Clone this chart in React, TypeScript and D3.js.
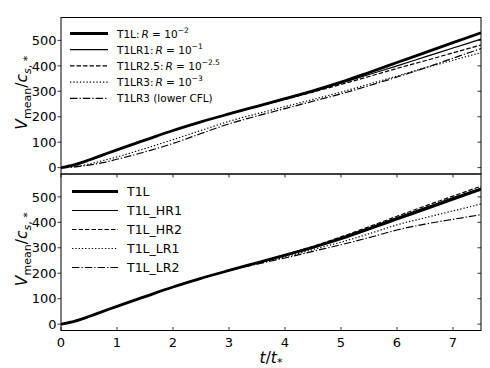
import React, { useEffect, useRef } from 'react';
import { select, scaleLinear, line, curveMonotoneX } from 'd3';

// time samples (t / t_*)
const times = [0, 0.25, 0.5, 0.75, 1, 1.5, 2, 2.5, 3, 3.5, 4, 4.5, 5, 5.5, 6, 6.5, 7, 7.5];

// top panel
const t1l = [0, 12, 30, 50, 70, 108, 146, 180, 211, 241, 271, 302, 336, 374, 413, 452, 491, 530];
const t1lr1 = [0, 12, 30, 50, 70, 108, 146, 180, 211, 241, 270, 300, 332, 366, 400, 435, 470, 505];
const t1lr25 = [0, 12, 30, 50, 70, 108, 146, 180, 211, 240, 268, 297, 327, 358, 390, 420, 451, 482];
const t1lr3 = [0, 4, 14, 28, 42, 75, 110, 146, 182, 212, 240, 268, 297, 328, 360, 392, 422, 452];
const t1lr3cfl = [0, 3, 10, 20, 33, 62, 95, 134, 172, 203, 232, 261, 290, 322, 356, 392, 430, 468];

// bottom panel
const t1lHr1 = [0, 12, 30, 50, 70, 108, 146, 180, 211, 241, 271, 304, 340, 379, 419, 458, 497, 535];
const t1lHr2 = [0, 12, 30, 50, 70, 108, 146, 180, 211, 241, 272, 306, 343, 383, 424, 464, 503, 542];
const t1lLr1 = [0, 12, 30, 50, 70, 108, 146, 180, 211, 238, 264, 293, 322, 355, 390, 418, 445, 472];
const t1lLr2 = [0, 12, 30, 50, 70, 108, 146, 180, 210, 236, 260, 286, 312, 340, 370, 393, 412, 430];

const xTicks = [0, 1, 2, 3, 4, 5, 6, 7];
const yTicks = [0, 100, 200, 300, 400, 500];

const styles: Record<string, { w: number; dash: string | null }> = {
  thick: { w: 2.8, dash: null },
  solid: { w: 1.2, dash: null },
  dashed: { w: 1.2, dash: '4.5,2' },
  dotted: { w: 1.2, dash: '1.3,2' },
  dashdot: { w: 1.2, dash: '7.5,2,1.3,2' },
};

const topSeries = [
  { label: ['T1L:', '2'], values: t1l, style: 'thick' },
  { label: ['T1LR1:', '1'], values: t1lr1, style: 'solid' },
  { label: ['T1LR2.5:', '2.5'], values: t1lr25, style: 'dashed' },
  { label: ['T1LR3:', '3'], values: t1lr3, style: 'dotted' },
  { label: ['T1LR3 (lower CFL)', ''], values: t1lr3cfl, style: 'dashdot' },
];

const bottomSeries = [
  { label: 'T1L', values: t1l, style: 'thick' },
  { label: 'T1L_HR1', values: t1lHr1, style: 'solid' },
  { label: 'T1L_HR2', values: t1lHr2, style: 'dashed' },
  { label: 'T1L_LR1', values: t1lLr1, style: 'dotted' },
  { label: 'T1L_LR2', values: t1lLr2, style: 'dashdot' },
];

const font = 'DejaVu Sans, sans-serif';

const App = () => {
  const ref = useRef<SVGSVGElement>(null);

  useEffect(() => {
    const svg = select(ref.current);
    svg.selectAll('*').remove();

    const left = 61, right = 481;
    const x = scaleLinear().domain([0, 7.5]).range([left, right]);

    const panels = [
      { top: 17.5, bottom: 174, series: topSeries, isTop: true },
      { top: 174, bottom: 330.5, series: bottomSeries, isTop: false },
    ];

    panels.forEach((p) => {
      const y = scaleLinear().domain([-25, 590]).range([p.bottom, p.top]);
      const g = svg.append('g');

      const clipId = p.isTop ? 'clipTop' : 'clipBottom';
      svg.append('clipPath').attr('id', clipId)
        .append('rect').attr('x', left).attr('y', p.top).attr('width', right - left).attr('height', p.bottom - p.top);

      const gen = line<number>()
        .x((_, i) => x(times[i]))
        .y((d) => y(d))
        .curve(curveMonotoneX);

      p.series.forEach((s) => {
        const st = styles[s.style];
        g.append('path')
          .attr('d', gen(s.values))
          .attr('fill', 'none')
          .attr('stroke', '#000')
          .attr('stroke-width', st.w)
          .attr('stroke-dasharray', st.dash)
          .attr('clip-path', `url(#${clipId})`);
      });

      // y ticks: left outside, right inside
      yTicks.forEach((v) => {
        g.append('line').attr('x1', left - 3.5).attr('x2', left).attr('y1', y(v)).attr('y2', y(v))
          .attr('stroke', '#000').attr('stroke-width', 0.8);
        g.append('line').attr('x1', right - 3.5).attr('x2', right).attr('y1', y(v)).attr('y2', y(v))
          .attr('stroke', '#000').attr('stroke-width', 0.8);
        g.append('text').attr('x', 56.5).attr('y', y(v)).attr('dy', '0.36em')
          .attr('text-anchor', 'end').attr('font-family', font).attr('font-size', 13)
          .text(v);
      });

      if (!p.isTop) {
        xTicks.forEach((v) => {
          g.append('line').attr('x1', x(v)).attr('x2', x(v)).attr('y1', p.top).attr('y2', p.top + 3.5)
            .attr('stroke', '#000').attr('stroke-width', 0.8);
          g.append('line').attr('x1', x(v)).attr('x2', x(v)).attr('y1', p.bottom - 3.5).attr('y2', p.bottom)
            .attr('stroke', '#000').attr('stroke-width', 0.8);
          g.append('text').attr('x', x(v)).attr('y', 346.5)
            .attr('text-anchor', 'middle').attr('font-family', font).attr('font-size', 13)
            .text(v);
        });
      }

      g.append('rect').attr('x', left).attr('y', p.top).attr('width', right - left).attr('height', p.bottom - p.top)
        .attr('fill', 'none').attr('stroke', '#000').attr('stroke-width', 1);

      // y label
      const yl = g.append('text')
        .attr('transform', `translate(27,${(p.top + p.bottom) / 2 - 3}) rotate(-90)`)
        .attr('text-anchor', 'middle').attr('font-family', font).attr('font-size', 15.5);
      yl.append('tspan').attr('font-style', 'italic').text('V');
      yl.append('tspan').attr('font-size', 11).attr('dy', 3.5).text('mean');
      yl.append('tspan').attr('dy', -3.5).text('/');
      yl.append('tspan').attr('font-style', 'italic').text('c');
      yl.append('tspan').attr('font-size', 11).attr('dy', 3.5).attr('font-style', 'italic').text('s');
      yl.append('tspan').attr('font-size', 11).text(', *');

      // legend
      if (p.isTop) {
        topSeries.forEach((s, i) => {
          const ly = 33.5 + i * 16.2;
          const st = styles[s.style];
          g.append('line').attr('x1', 70).attr('x2', 108).attr('y1', ly).attr('y2', ly)
            .attr('stroke', '#000').attr('stroke-width', st.w).attr('stroke-dasharray', st.dash);
          const t = g.append('text').attr('x', 117).attr('y', ly + 4)
            .attr('font-family', font).attr('font-size', 10.5);
          t.append('tspan').text(s.label[0]);
          if (s.label[1]) {
            t.append('tspan').attr('font-style', 'italic').attr('dx', 2).text('R');
            t.append('tspan').text(' = 10');
            t.append('tspan').attr('font-size', 7.5).attr('dy', -5).text('\u2212' + s.label[1]);
          }
        });
      } else {
        bottomSeries.forEach((s, i) => {
          const ly = 191.5 + i * 19;
          const st = styles[s.style];
          g.append('line').attr('x1', 72).attr('x2', 118).attr('y1', ly).attr('y2', ly)
            .attr('stroke', '#000').attr('stroke-width', st.w).attr('stroke-dasharray', st.dash);
          g.append('text').attr('x', 127).attr('y', ly + 4.5)
            .attr('font-family', font).attr('font-size', 12.5).text(s.label);
        });
      }
    });

    // x label
    const xl = svg.append('text').attr('x', 271).attr('y', 363)
      .attr('text-anchor', 'middle').attr('font-family', font).attr('font-size', 15.5);
    xl.append('tspan').attr('font-style', 'italic').text('t');
    xl.append('tspan').text('/');
    xl.append('tspan').attr('font-style', 'italic').text('t');
    xl.append('tspan').attr('font-size', 11).attr('dy', 3).text('*');
  }, []);

  return (
    <svg ref={ref} width="490" height="368" style={{ position: 'absolute', left: 0, top: 0, background: '#fff' }}>
    </svg>
  );
};

export default App;
